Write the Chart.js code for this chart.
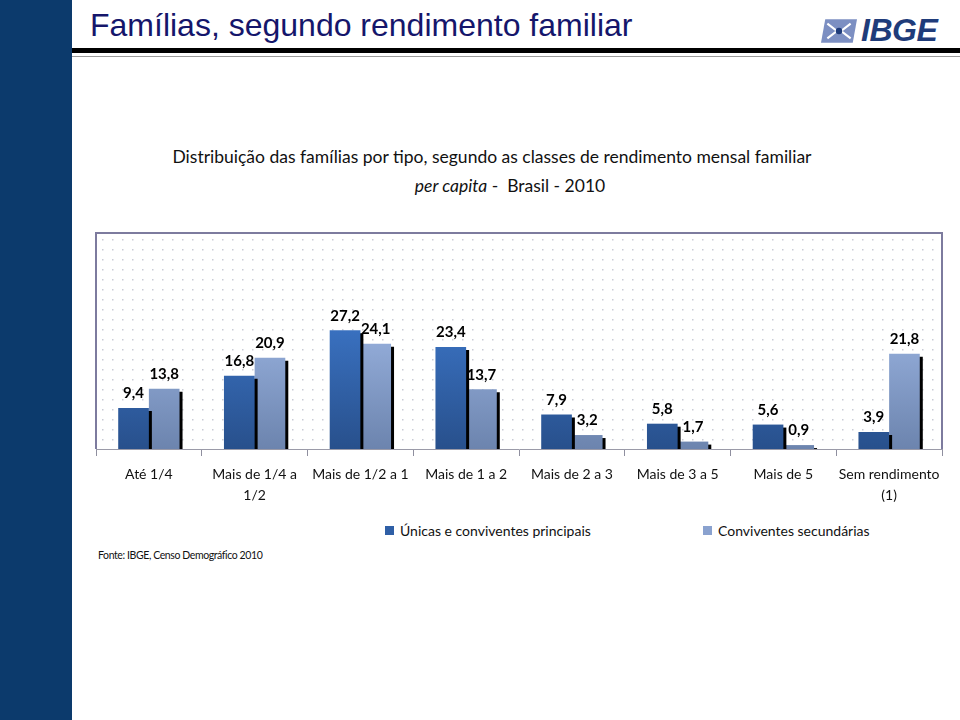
<!DOCTYPE html>
<html>
<head>
<meta charset="utf-8">
<script src="https://cdn.jsdelivr.net/npm/chart.js@4.4.1/dist/chart.umd.min.js"></script>
<style>
  html, body { margin: 0; padding: 0; background: #fff; }
  body { width: 960px; height: 720px; position: relative; overflow: hidden; font-family: Lato, "Open Sans", sans-serif; }
  .sidebar { position: absolute; left: 0; top: 0; width: 72px; height: 720px; background: #0c3a6c; }
  .page-title { position: absolute; left: 90px; top: 7px; font-family: "Liberation Sans", Arial, sans-serif; font-size: 32px; color: #15166b; }
  .rule { position: absolute; left: 72px; right: 0; top: 48px; height: 5px; background: #000; }
  .rule-thin { position: absolute; left: 72px; right: 0; top: 56px; height: 1px; background: #9a9a9a; }
  .logo { position: absolute; left: 821px; top: 12px; display: flex; align-items: center; gap: 4px; }
  .logo span { font-family: "Liberation Sans", Arial, sans-serif; font-weight: bold; font-style: italic; font-size: 32px; color: #1f3c7a; letter-spacing: -0.5px; }
  .chart-title { position: absolute; left: 72px; width: 840px; text-align: center; font-size: 17.5px; color: #111; }
  .chart-wrap { position: absolute; left: 90px; top: 225px; width: 860px; height: 289px; }
  .legend { position: absolute; top: 522px; font-size: 14px; color: #111; display: flex; align-items: center; gap: 6px; }
  .legend i { display: inline-block; width: 9px; height: 9px; }
  .source { position: absolute; left: 98px; top: 549px; font-size: 10.5px; color: #111; letter-spacing: -0.4px; }
</style>
</head>
<body>
<div class="sidebar"></div>
<div class="page-title">Famílias, segundo rendimento familiar</div>
<div class="logo">
  <svg width="36" height="24" viewBox="0 0 34 22">
    <path d="M4 0 H34 L30 22 H0 Z" fill="#7c8fc2"/>
    <path d="M6 4 L15 11 L6 18 M28 4 L19 11 L28 18 M15 11 H19" stroke="#fff" stroke-width="2" fill="none"/>
    <circle cx="17" cy="11" r="3" fill="#1f3c7a"/>
  </svg>
  <span>IBGE</span>
</div>
<div class="rule"></div>
<div class="rule-thin"></div>

<div class="chart-title" style="top:146px">Distribuição das famílias por tipo, segundo as classes de rendimento mensal familiar</div>
<div class="chart-title" style="top:175px;left:90px"><i>per capita</i> -&nbsp; Brasil - 2010</div>

<div class="chart-wrap"><canvas id="chart"></canvas></div>

<div class="legend" style="left:385px"><i style="background:#2f5fa6"></i>Únicas e conviventes principais</div>
<div class="legend" style="left:703px"><i style="background:#8aa2cf"></i>Conviventes secundárias</div>
<div class="source">Fonte: IBGE, Censo Demográfico 2010</div>

<script>
const categories = ['Até 1/4', ['Mais de 1/4 a', '1/2'], 'Mais de 1/2 a 1', 'Mais de 1 a 2', 'Mais de 2 a 3', 'Mais de 3 a 5', 'Mais de 5', ['Sem rendimento', '(1)']];
const principais = [9.4, 16.8, 27.2, 23.4, 7.9, 5.8, 5.6, 3.9];
const secundarias = [13.8, 20.9, 24.1, 13.7, 3.2, 1.7, 0.9, 21.8];
const seriesNames = ['Únicas e conviventes principais', 'Conviventes secundárias'];

function barGradient(top, bottom) {
  return (ctx) => {
    const { chart } = ctx;
    const area = chart.chartArea;
    if (!area) return bottom;
    const g = chart.ctx.createLinearGradient(0, area.top + 90, 0, area.bottom);
    g.addColorStop(0, top);
    g.addColorStop(1, bottom);
    return g;
  };
}

const plotBackground = {
  id: 'plotBackground',
  beforeDraw(chart) {
    const { ctx, chartArea: a } = chart;
    ctx.save();
    ctx.fillStyle = '#ffffff';
    ctx.fillRect(a.left, a.top, a.right - a.left, a.bottom - a.top);
    ctx.fillStyle = '#c9ccd6';
    for (let y = a.top + 6; y < a.bottom; y += 10) {
      for (let x = a.left + 6; x < a.right; x += 10) ctx.fillRect(x, y, 1.5, 1.5);
    }
    ctx.strokeStyle = '#7d7b9e';
    ctx.lineWidth = 2;
    ctx.beginPath();
    ctx.moveTo(a.left, a.bottom);
    ctx.lineTo(a.left, a.top);
    ctx.lineTo(a.right, a.top);
    ctx.lineTo(a.right, a.bottom);
    ctx.stroke();
    ctx.restore();
  }
};

const barShadow = {
  id: 'barShadow',
  beforeDatasetsDraw(chart) {
    const { ctx, chartArea: a } = chart;
    ctx.save();
    ctx.beginPath();
    ctx.rect(a.left, a.top, a.right - a.left, a.bottom - a.top);
    ctx.clip();
    ctx.shadowColor = '#000';
    ctx.shadowOffsetX = 3;
    ctx.shadowOffsetY = 3;
    ctx.shadowBlur = 0;
  },
  afterDatasetsDraw(chart) {
    const { ctx } = chart;
    ctx.restore();
    ctx.save();
    ctx.font = 'bold 15px Lato, "Open Sans", sans-serif';
    ctx.fillStyle = '#000';
    ctx.textAlign = 'center';
    ctx.textBaseline = 'bottom';
    chart.data.datasets.forEach((ds, i) => {
      chart.getDatasetMeta(i).data.forEach((bar, j) => {
        ctx.fillText(ds.data[j].toFixed(1).replace('.', ','), bar.x, bar.y - 7);
      });
    });
    ctx.restore();
  }
};

new Chart(document.getElementById('chart'), {
  type: 'bar',
  data: {
    labels: categories,
    datasets: [
      { label: seriesNames[0], data: principais, backgroundColor: barGradient('#3a72c2', '#28508c') },
      { label: seriesNames[1], data: secundarias, backgroundColor: barGradient('#98b1de', '#6c84ae') }
    ]
  },
  options: {
    responsive: true,
    maintainAspectRatio: false,
    animation: false,
    categoryPercentage: 0.58,
    barPercentage: 1,
    layout: { padding: { left: 6, right: 8, top: 8, bottom: 0 } },
    plugins: { legend: { display: false }, tooltip: { enabled: false } },
    scales: {
      x: {
        grid: { display: true, drawOnChartArea: false, offset: true, tickLength: 7, color: '#8f8f9f' },
        border: { display: true, color: '#9a9aa8', width: 1 },
        ticks: { color: '#111', font: { family: 'Lato, "Open Sans", sans-serif', size: 14, lineHeight: 1.5 }, padding: 8, maxRotation: 0, autoSkip: false }
      },
      y: { display: false, min: 0, max: 49.5 }
    }
  },
  plugins: [plotBackground, barShadow]
});
</script>
</body>
</html>
